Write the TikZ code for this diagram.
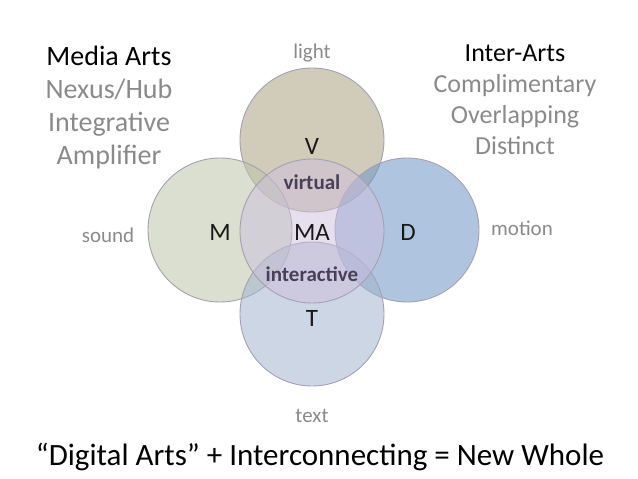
\documentclass[tikz,border=0pt]{standalone}
\usepackage{fontspec}
\setmainfont{Carlito}
\usetikzlibrary{calc}
\definecolor{lightc}{RGB}{172,160,127}
\definecolor{soundc}{RGB}{187,197,167}
\definecolor{motionc}{RGB}{110,150,197}
\definecolor{textc}{RGB}{163,180,205}
\definecolor{hubc}{RGB}{205,192,222}
\definecolor{ringline}{RGB}{165,159,177}
\definecolor{labelgray}{RGB}{138,138,138}
\definecolor{mixtext}{RGB}{72,64,88}

\begin{document}
\begin{tikzpicture}[x=1pt,y=-1pt,
  ring/.style={draw=ringline,line width=0.9pt,fill opacity=0.55},
  side/.style={text=labelgray,font=\fontsize{21}{25}\selectfont},
  key/.style={text=black!90,font=\fontsize{25}{30}\selectfont},
  mix/.style={text=mixtext,font=\fontsize{21}{25}\selectfont\bfseries},
  block/.style={align=center,text=labelgray}]
  \useasboundingbox (0,0) rectangle (638,479);
  \coordinate (V) at (312,140); \coordinate (M) at (220,230); \coordinate (D) at (407,230);
  \coordinate (T) at (312,314); \coordinate (MA) at (312,231);
  % four media circles, hub on top
  \filldraw[ring,fill=lightc] (V) circle(72pt);
  \filldraw[ring,fill=soundc] (M) circle(72pt);
  \filldraw[ring,fill=motionc] (D) circle(72pt);
  \filldraw[ring,fill=textc] (T) circle(72pt);
  \filldraw[ring,fill=hubc,fill opacity=0.5] (MA) circle(72pt);
  \node[key] (vl) at (312,146) {V};
  \node[key] (ml) at (220,232) {M};
  \node[key] (mal) at (312,232) {MA};
  \node[key] (dl) at (408,232) {D};
  \node[key] (tl) at (312,318) {T};
  \node[mix] (virt) at (312,182) {virtual};
  \node[mix] (inter) at (312,274) {interactive};
  \node[side] (light) at (312,53) {light};
  \node[side] (sound) at (108,235) {sound};
  \node[side] (motion) at (522,228) {motion};
  \node[side] (text) at (312,416) {text};
  % text blocks
  \node[block,font=\fontsize{28}{33}\selectfont] (media) at (109,108)
    {\textcolor{black}{Media Arts}\\Nexus/Hub\\Integrative\\Amplifier};
  \node[block,font=\fontsize{26}{31}\selectfont] (inter-arts) at (515,100)
    {\textcolor{black}{Inter-Arts}\\Complimentary\\Overlapping\\Distinct};
  \node[font=\fontsize{31}{36}\selectfont] (whole) at (320,457)
    {“Digital Arts” + Interconnecting = New Whole};
\end{tikzpicture}
\end{document}
